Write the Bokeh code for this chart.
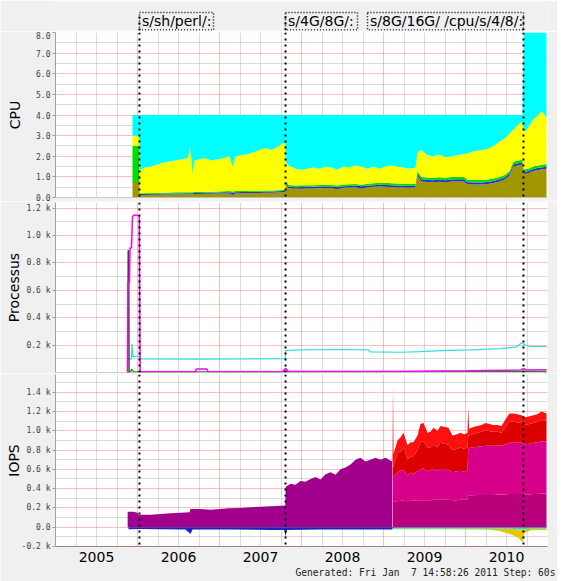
from bokeh.plotting import figure
from bokeh.models import (Range1d, FixedTicker, Grid, Span, Title,
                          ColumnDataSource, CustomJSTickFormatter)
from bokeh.layouts import column
from bokeh.transform import stack
from bokeh.core.properties import value
from bokeh.embed import file_html
from bokeh.resources import INLINE

# ---------------- data ----------------
year_labels = ["2005", "2006", "2007", "2008", "2009", "2010"]
year_label_pos = [2005.5, 2006.5, 2007.5, 2008.5, 2009.5, 2010.5]
rule_times = [2006.024, 2007.805, 2010.707]
rule_texts = ["s/sh/perl/:", "s/4G/8G/:", "s/8G/16G/ /cpu/s/4/8/:"]
generated_text = "Generated: Fri Jan\u00a0 7 14:58:26 2011 Step: 60s"

cpu_t = [2005.939, 2006.018, 2006.027, 2006.098, 2006.171, 2006.244, 2006.317, 2006.390, 2006.463, 2006.537,
         2006.610, 2006.646, 2006.671, 2006.695, 2006.756, 2006.829, 2006.902, 2006.976, 2007.049, 2007.122,
         2007.159, 2007.195, 2007.268, 2007.341, 2007.415, 2007.488, 2007.561, 2007.634, 2007.707, 2007.780,
         2007.802, 2007.807, 2007.841, 2007.927, 2008.000, 2008.073, 2008.146, 2008.220, 2008.293, 2008.366,
         2008.439, 2008.512, 2008.585, 2008.659, 2008.732, 2008.805, 2008.878, 2008.951, 2009.024, 2009.098,
         2009.171, 2009.244, 2009.317, 2009.390, 2009.415, 2009.463, 2009.537, 2009.610, 2009.683, 2009.756,
         2009.829, 2009.902, 2009.976, 2010.024, 2010.122, 2010.195, 2010.268, 2010.341, 2010.415, 2010.488,
         2010.537, 2010.585, 2010.634, 2010.695, 2010.710, 2010.732, 2010.780, 2010.829, 2010.878, 2010.927,
         2010.988]
cpu_olive = [0.75, 0.75, 0.12, 0.12, 0.13, 0.13, 0.14, 0.14, 0.15, 0.15,
             0.16, 0.16, 0.16, 0.17, 0.17, 0.18, 0.18, 0.19, 0.19, 0.20,
             0.12, 0.20, 0.21, 0.21, 0.22, 0.22, 0.23, 0.23, 0.24, 0.25,
             0.25, 0.70, 0.45, 0.42, 0.43, 0.44, 0.44, 0.45, 0.46, 0.45,
             0.40, 0.47, 0.48, 0.50, 0.42, 0.50, 0.52, 0.53, 0.52, 0.50,
             0.49, 0.48, 0.47, 0.48, 1.05, 0.78, 0.75, 0.74, 0.76, 0.74,
             0.77, 0.78, 0.79, 0.64, 0.63, 0.63, 0.65, 0.70, 0.78, 0.90,
             1.07, 1.50, 1.55, 1.60, 1.15, 1.15, 1.20, 1.28, 1.33, 1.36,
             1.40]
cpu_blue = [0.0, 0.0, 0.05, 0.05, 0.05, 0.05, 0.05, 0.05, 0.05, 0.05,
            0.05, 0.05, 0.05, 0.05, 0.05, 0.05, 0.05, 0.05, 0.06, 0.06,
            0.12, 0.06, 0.06, 0.06, 0.06, 0.06, 0.06, 0.06, 0.06, 0.06,
            0.06, 0.08, 0.08, 0.08, 0.08, 0.08, 0.08, 0.08, 0.08, 0.08,
            0.10, 0.08, 0.08, 0.08, 0.12, 0.08, 0.08, 0.09, 0.09, 0.09,
            0.09, 0.09, 0.09, 0.09, 0.10, 0.10, 0.10, 0.10, 0.10, 0.10,
            0.10, 0.10, 0.10, 0.10, 0.10, 0.10, 0.10, 0.10, 0.10, 0.10,
            0.10, 0.10, 0.10, 0.10, 0.10, 0.10, 0.10, 0.10, 0.10, 0.10,
            0.10]
cpu_green = [1.75, 1.75, 0.04, 0.04, 0.04, 0.04, 0.04, 0.05, 0.05, 0.05,
             0.05, 0.05, 0.05, 0.05, 0.05, 0.05, 0.05, 0.05, 0.05, 0.05,
             0.05, 0.05, 0.05, 0.05, 0.05, 0.05, 0.05, 0.05, 0.05, 0.05,
             0.05, 0.08, 0.08, 0.08, 0.08, 0.08, 0.08, 0.08, 0.08, 0.08,
             0.08, 0.08, 0.08, 0.08, 0.08, 0.09, 0.09, 0.10, 0.10, 0.10,
             0.10, 0.10, 0.10, 0.10, 0.12, 0.12, 0.12, 0.12, 0.12, 0.12,
             0.12, 0.12, 0.12, 0.12, 0.12, 0.12, 0.12, 0.12, 0.12, 0.12,
             0.12, 0.13, 0.13, 0.13, 0.12, 0.12, 0.12, 0.12, 0.12, 0.12,
             0.12]
cpu_yellow = [0.50, 0.50, 1.14, 1.24, 1.28, 1.38, 1.47, 1.51, 1.55, 1.60,
              1.64, 2.14, 0.89, 1.53, 1.58, 1.62, 1.52, 1.56, 1.60, 1.69,
              1.21, 1.69, 1.73, 1.78, 1.87, 1.97, 2.06, 1.96, 2.10, 2.29,
              2.29, 0.89, 0.94, 0.82, 0.76, 0.80, 0.85, 0.79, 0.88, 0.84,
              0.77, 0.87, 0.81, 0.89, 0.88, 0.73, 0.81, 0.68, 0.79, 0.86,
              0.82, 0.78, 0.74, 0.78, 0.93, 1.30, 1.08, 1.04, 1.12, 0.99,
              1.01, 1.05, 1.09, 1.29, 1.40, 1.45, 1.48, 1.58, 1.70, 1.78,
              1.81, 1.57, 1.72, 1.87, 1.93, 1.83, 2.08, 2.30, 2.40, 2.62,
              2.28]
cpu_total = [4.0, 4.0, 4.0, 4.0, 4.0, 4.0, 4.0, 4.0, 4.0, 4.0,
             4.0, 4.0, 4.0, 4.0, 4.0, 4.0, 4.0, 4.0, 4.0, 4.0,
             4.0, 4.0, 4.0, 4.0, 4.0, 4.0, 4.0, 4.0, 4.0, 4.0,
             4.0, 4.0, 4.0, 4.0, 4.0, 4.0, 4.0, 4.0, 4.0, 4.0,
             4.0, 4.0, 4.0, 4.0, 4.0, 4.0, 4.0, 4.0, 4.0, 4.0,
             4.0, 4.0, 4.0, 4.0, 4.0, 4.0, 4.0, 4.0, 4.0, 4.0,
             4.0, 4.0, 4.0, 4.0, 4.0, 4.0, 4.0, 4.0, 4.0, 4.0,
             4.0, 4.0, 4.0, 4.0, 8.0, 8.0, 8.0, 8.0, 8.0, 8.0,
             8.0]

proc_mag_t = [2005.878, 2005.884, 2005.902, 2005.909, 2005.927, 2005.939, 2005.963, 2006.022, 2006.032,
              2006.707, 2006.715, 2006.848, 2006.856, 2007.768, 2007.805, 2007.841, 2008.500, 2009.207,
              2010.000, 2010.671, 2010.707, 2010.744, 2010.988]
proc_mag = [0, 660, 660, 910, 910, 1140, 1150, 1145, 5,
            5, 25, 25, 5, 5, 30, 8, 8, 8,
            12, 18, 28, 18, 20]
proc_cyan_t = [2005.878, 2005.927, 2005.933, 2005.945, 2006.022, 2006.032, 2006.768, 2007.378, 2007.802,
               2007.810, 2007.988, 2008.476, 2008.817, 2008.841, 2009.207, 2009.451, 2009.695, 2010.061,
               2010.427, 2010.610, 2010.683, 2010.732, 2010.793, 2010.988]
proc_cyan = [95, 100, 210, 115, 120, 100, 98, 100, 102,
             160, 165, 168, 165, 150, 148, 152, 160, 165,
             175, 185, 215, 200, 190, 190]
proc_green_t = [2005.878, 2005.915, 2005.927, 2005.951, 2006.500, 2008.000, 2010.988]
proc_green = [3, 3, 25, 5, 5, 6, 8]
proc_gray_t = [2005.880, 2005.885, 2005.894, 2005.899]
proc_gray = [0, 890, 890, 0]

io_early_t = [2005.880, 2005.951, 2006.000, 2006.012, 2006.159, 2006.280, 2006.402, 2006.524, 2006.634, 2006.646,
              2006.768, 2006.890, 2007.012, 2007.110, 2007.256, 2007.378, 2007.500, 2007.622, 2007.744, 2007.802,
              2007.807, 2007.866, 2007.927, 2007.988, 2008.049, 2008.110, 2008.171, 2008.232, 2008.293, 2008.354,
              2008.415, 2008.476, 2008.537, 2008.598, 2008.659, 2008.720, 2008.780, 2008.841, 2008.902, 2008.963,
              2009.024, 2009.104]
io_purple = [160, 160, 150, 130, 130, 138, 145, 150, 155, 190,
             188, 182, 190, 196, 200, 208, 212, 218, 222, 225,
             420, 450, 440, 480, 470, 500, 520, 495, 550, 570,
             545, 600, 620, 650, 700, 720, 680, 700, 720, 700,
             720, 680]

io_late_t = [2009.110, 2009.116, 2009.122, 2009.171, 2009.207, 2009.244, 2009.293, 2009.329, 2009.366, 2009.415,
             2009.451, 2009.488, 2009.537, 2009.573, 2009.610, 2009.659, 2009.695, 2009.744, 2009.793, 2009.841,
             2009.890, 2009.939, 2009.988, 2010.024, 2010.034, 2010.044, 2010.098, 2010.146, 2010.195, 2010.244,
             2010.293, 2010.341, 2010.390, 2010.439, 2010.488, 2010.537, 2010.585, 2010.634, 2010.683, 2010.732,
             2010.780, 2010.829, 2010.878, 2010.927, 2010.988]
io_m1 = [270, 270, 270, 270, 275, 275, 270, 275, 275, 280,
         280, 280, 280, 280, 285, 285, 285, 285, 285, 280,
         280, 285, 285, 290, 330, 330, 330, 335, 335, 335,
         335, 335, 340, 340, 340, 345, 345, 345, 345, 340,
         340, 345, 345, 350, 350]
io_m2 = [250, 250, 250, 300, 310, 320, 260, 290, 280, 300,
         320, 330, 300, 310, 320, 300, 320, 310, 310, 290,
         300, 300, 290, 300, 490, 490, 500, 500, 505, 510,
         510, 510, 510, 505, 520, 530, 530, 530, 535, 520,
         525, 530, 535, 540, 540]
io_r1 = [100, 100, 120, 200, 200, 230, 170, 170, 180, 220,
         280, 280, 240, 240, 250, 250, 270, 270, 260, 230,
         230, 240, 235, 240, 130, 130, 140, 145, 150, 160,
         150, 145, 140, 135, 180, 220, 220, 210, 200, 200,
         205, 205, 210, 225, 210]
io_r2 = [100, 870, 120, 130, 145, 155, 150, 145, 145, 150,
         190, 190, 160, 160, 175, 165, 175, 175, 175, 150,
         150, 155, 150, 150, 290, 70, 70, 70, 70, 75,
         75, 70, 70, 70, 80, 85, 85, 85, 80, 80,
         80, 80, 80, 85, 80]

io_neg_t = [2005.890, 2006.037, 2006.280, 2006.585, 2006.646, 2006.671, 2007.134, 2007.622, 2007.793, 2007.805,
            2007.823, 2008.232, 2008.720, 2009.104, 2009.116, 2009.817, 2010.305, 2010.427, 2010.549, 2010.646,
            2010.695, 2010.720, 2010.793, 2010.988]
io_neg_blue = [-20, -18, -22, -25, -70, -25, -25, -28, -30, -100,
               -30, -25, -25, -25, -5, -5, -5, -5, -5, -5,
               -5, -5, -5, -5]
io_neg_cyan = [0, 0, 0, 0, 0, 0, 0, 0, 0, 0,
               0, 0, 0, 0, -12, -12, -12, -12, -12, -15,
               -20, -15, -12, -12]
io_neg_yellow = [0, 0, 0, 0, 0, 0, 0, 0, 0, 0,
                 0, 0, 0, 0, -5, -5, -10, -25, -55, -90,
                 -130, -40, -15, -12]

# ---------------- style / layout ----------------
BG = "#f0f0f0"
W = 557
LEFT = 55
RIGHT = 10
AXIS_GRAY = "#a0a0a0"

xr = Range1d(2005.0, 2011.0)
year_lines = [2006, 2007, 2008, 2009, 2010]
quarter_lines = [y + q for y in range(2005, 2011) for q in (0.25, 0.5, 0.75)]


def drop_default_grids(p):
    p.center = [r for r in p.center if not isinstance(r, Grid)]


def panel(height, yr, btop, bbottom, ymajor, yminor, fmt, title, title_standoff, with_x_axis=False):
    p = figure(width=W, height=height, x_range=xr, y_range=yr,
               output_backend="svg", toolbar_location=None,
               x_axis_location="below" if with_x_axis else None,
               min_border_left=LEFT, min_border_right=RIGHT,
               min_border_top=btop, min_border_bottom=bbottom,
               background_fill_color="white", border_fill_color=BG,
               outline_line_color=None)
    drop_default_grids(p)
    p.add_layout(Grid(dimension=0, ticker=FixedTicker(ticks=quarter_lines),
                      grid_line_color="#bababa", grid_line_alpha=0.5))
    p.add_layout(Grid(dimension=1, ticker=FixedTicker(ticks=yminor),
                      grid_line_color="#bababa", grid_line_alpha=0.5))
    p.add_layout(Grid(dimension=0, ticker=FixedTicker(ticks=year_lines),
                      grid_line_color="#ff0000", grid_line_alpha=0.25))
    p.add_layout(Grid(dimension=1, ticker=FixedTicker(ticks=ymajor),
                      grid_line_color="#ff0000", grid_line_alpha=0.25))
    ya = p.yaxis[0]
    ya.ticker = FixedTicker(ticks=ymajor)
    ya.formatter = CustomJSTickFormatter(code=fmt)
    ya.major_label_text_font = "DejaVu Sans Mono"
    ya.major_label_text_font_size = "8px"
    ya.major_label_text_color = "#404040"
    ya.axis_line_color = AXIS_GRAY
    ya.major_tick_line_color = AXIS_GRAY
    ya.major_tick_out = 3
    ya.major_tick_in = 0
    ya.minor_tick_line_color = None
    ya.major_label_standoff = 2
    ya.axis_label = title
    ya.axis_label_standoff = title_standoff
    ya.axis_label_text_font = "DejaVu Sans"
    ya.axis_label_text_font_size = "14px"
    ya.axis_label_text_font_style = "normal"
    ya.axis_label_text_color = "black"
    if with_x_axis:
        xa = p.xaxis[0]
        xa.ticker = FixedTicker(ticks=year_label_pos)
        xa.formatter = CustomJSTickFormatter(code="return Math.floor(tick).toString();")
        xa.major_label_text_font = "DejaVu Sans"
        xa.major_label_text_font_size = "14px"
        xa.major_label_text_color = "black"
        xa.axis_line_color = "#a08080"
        xa.major_tick_line_color = None
        xa.minor_tick_line_color = None
        xa.major_tick_out = 0
        xa.major_tick_in = 0
        xa.major_label_standoff = 5
    return p


def add_rules(p):
    for t in rule_times:
        p.add_layout(Span(location=t, dimension="height", line_color="black",
                          line_width=2, line_dash="2 4"))


# ---- top annotation strip (y in pixels above the CPU frame) ----
pt = figure(width=W, height=31, x_range=xr, y_range=Range1d(2, 31),
            output_backend="svg", toolbar_location=None,
            x_axis_location=None, y_axis_location=None,
            min_border_left=LEFT, min_border_right=RIGHT, min_border_top=1, min_border_bottom=1,
            background_fill_color=BG, border_fill_color=BG, outline_line_color=None)
drop_default_grids(pt)
box_left = [rule_times[0], rule_times[1], 2008.805]
box_right = [2006.927, 2008.683, rule_times[2]]
pt.quad(left=box_left, right=box_right, bottom=2.6, top=20, fill_color=None,
        line_color="black", line_width=1.5, line_dash="1 2")
pt.segment(x0=rule_times, y0=2, x1=rule_times, y1=20, line_color="black",
           line_width=2, line_dash="2 4")
pt.text(x=box_left, y=[11.5, 11.5, 11.5], text=rule_texts, x_offset=2.5,
        text_font=value("DejaVu Sans"), text_font_size="14px",
        text_baseline="middle", text_align="left", text_color="black")

# ---- CPU ----
p1 = panel(170, Range1d(0, 8), 1, 4, [0, 1, 2, 3, 4, 5, 6, 7, 8],
           [0.5, 1.5, 2.5, 3.5, 4.5, 5.5, 6.5, 7.5], "return tick.toFixed(1);", "CPU", 10)
cpu_src = ColumnDataSource(dict(t=cpu_t, olive=cpu_olive, blue=cpu_blue, green=cpu_green,
                                yellow=cpu_yellow, total=cpu_total))
p1.varea_stack(["olive", "blue", "green", "yellow"], x="t", source=cpu_src,
               fill_color=["#a09600", "#2e2ed0", "#00dd00", "#ffff00"])
p1.varea(x="t", y1=stack("olive", "blue", "green", "yellow"), y2="total",
         source=cpu_src, fill_color="#00ffff")
p1.add_layout(Span(location=0, dimension="width", line_color=AXIS_GRAY, line_width=1))
add_rules(p1)

# ---- Processus ----
p2 = panel(172, Range1d(0, 1241.5), 1, 1, [200, 400, 600, 800, 1000, 1200],
           [100, 300, 500, 700, 900, 1100],
           "return (tick/1000).toFixed(1) + ' k';", "Processus", 1)
p2.line(proc_cyan_t, proc_cyan, line_color="#30e0e0", line_width=1.2)
p2.line(proc_green_t, proc_green, line_color="#00a000", line_width=1.2)
p2.line(proc_gray_t, proc_gray, line_color="#404040", line_width=1.2)
p2.line(proc_mag_t, proc_mag, line_color="#ff00ff", line_width=1.5)
p2.add_layout(Span(location=0, dimension="width", line_color=AXIS_GRAY, line_width=1))
add_rules(p2)

# ---- IOPS ----
p3 = panel(208, Range1d(-200, 1583), 1, 35,
           [-200, 0, 200, 400, 600, 800, 1000, 1200, 1400],
           [-100, 100, 300, 500, 700, 900, 1100, 1300, 1500],
           "return tick == 0 ? '0.0' : (tick/1000).toFixed(1) + ' k';", "IOPS", -3,
           with_x_axis=True)
p3.varea(x=io_early_t, y1=0, y2=io_purple, fill_color="#a0008c")
late_src = ColumnDataSource(dict(t=io_late_t, m1=io_m1, m2=io_m2, r1=io_r1, r2=io_r2))
p3.varea_stack(["m1", "m2", "r1", "r2"], x="t", source=late_src,
               fill_color=["#b8007a", "#d6008a", "#dd0000", "#ff1010"])
neg_src = ColumnDataSource(dict(t=io_neg_t, b=io_neg_blue, c=io_neg_cyan, y=io_neg_yellow))
p3.varea_stack(["b", "c", "y"], x="t", source=neg_src,
               fill_color=["#2222bb", "#00e0ee", "#e8c400"])
add_rules(p3)
p3.add_layout(Title(text=generated_text, align="left", offset=240, standoff=1,
                    text_font="DejaVu Sans Mono", text_font_size="9.6px",
                    text_font_style="normal", text_color="#222222"), "below")

layout = column(pt, p1, p2, p3, spacing=0)
open("out.html", "w").write(file_html(layout, INLINE))
